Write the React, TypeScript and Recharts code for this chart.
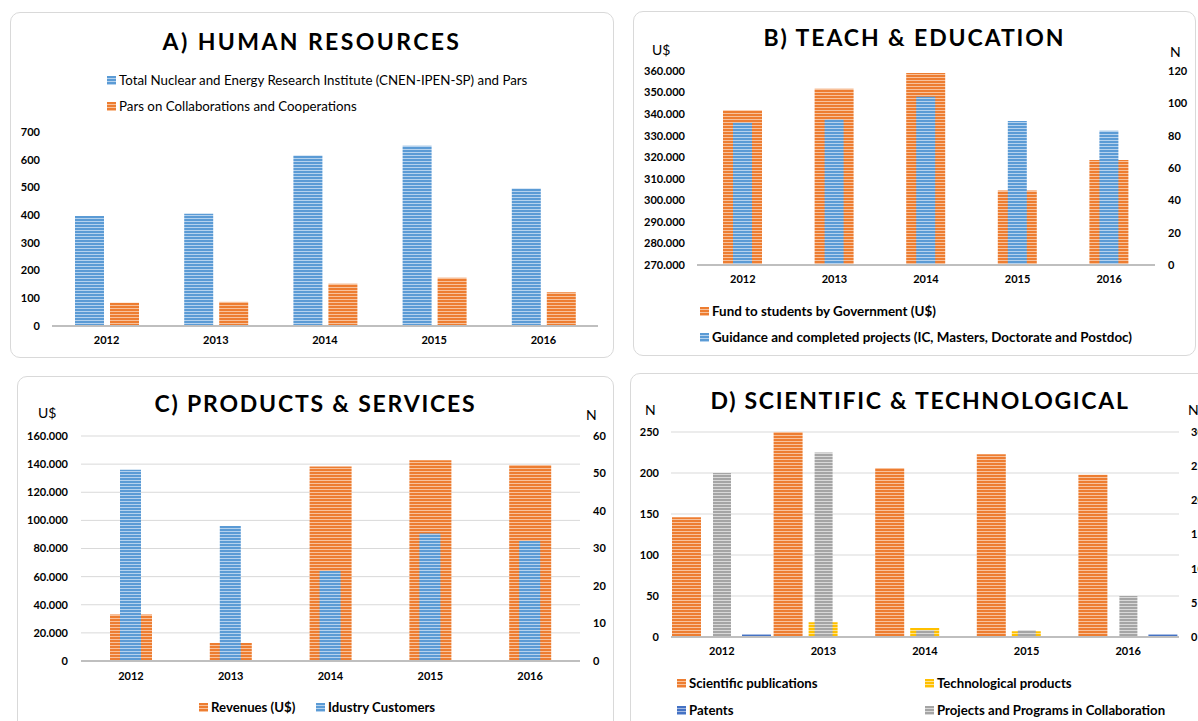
import { Bar, BarChart, CartesianGrid, XAxis, YAxis } from 'recharts';

// ---- data ----
const years = ['2012', '2013', '2014', '2015', '2016'];

const hrTotal = [397, 405, 615, 650, 496];
const hrPars = [84, 87, 152, 174, 122];
const hrTicks = [0, 100, 200, 300, 400, 500, 600, 700];

const eduFund = [341800, 351800, 359100, 304600, 318700];
const eduGuidance = [88, 90, 104, 89, 83];
const eduFundTicks = [270000, 280000, 290000, 300000, 310000, 320000, 330000, 340000, 350000, 360000];
const eduGuidanceTicks = [0, 20, 40, 60, 80, 100, 120];

const prodRevenues = [33000, 12800, 138400, 142700, 139300];
const prodCustomers = [51, 36, 24, 34, 32];
const prodRevenueTicks = [0, 20000, 40000, 60000, 80000, 100000, 120000, 140000, 160000];
const prodCustomerTicks = [0, 10, 20, 30, 40, 50, 60];

const sciPublications = [146, 250, 206, 223, 198];
const sciTechProducts = [0, 18, 11, 7, 0];
const sciPatents = [3, 0, 0, 0, 3];
const sciProjects = [24, 27, 1, 1, 6];
const sciLeftTicks = [0, 50, 100, 150, 200, 250];
const sciRightTicks = [0, 5, 10, 15, 20, 25, 30];

const hrData = years.map((year, i) => ({ year, total: hrTotal[i], pars: hrPars[i] }));
const eduData = years.map((year, i) => ({ year, fund: eduFund[i], guidance: eduGuidance[i] }));
const prodData = years.map((year, i) => ({ year, revenues: prodRevenues[i], customers: prodCustomers[i] }));
const sciData = years.map((year, i) => ({
  year,
  publications: sciPublications[i],
  tech: sciTechProducts[i],
  patents: sciPatents[i],
  projects: sciProjects[i],
}));

const stripes: Record<string, [string, string]> = {
  blue: ['#5b9bd5', '#b5d2ee'],
  orange: ['#ed7d31', '#f8c29c'],
  yellow: ['#ffc000', '#ffe38f'],
  grey: ['#a5a5a5', '#d9d9d9'],
  navy: ['#4472c4', '#a3b8e2'],
};

const dotFormat = (v: number) => String(v).replace(/\B(?=(\d{3})+(?!\d))/g, '.');

const FONT = 'Lato, "Noto Sans", sans-serif';
const tickStyle = { fill: '#000', fontSize: 11, fontWeight: 700, fontFamily: FONT };
const axisLine = { stroke: '#bfbfbf', strokeWidth: 2 };

const Patterns = () => (
  <svg width={0} height={0} style={{ position: 'absolute' }}>
    <defs>
      {Object.entries(stripes).map(([name, [main, light]]) => (
        <pattern key={name} id={`stripe-${name}`} width={4} height={3} patternUnits="userSpaceOnUse">
          <rect width={4} height={3} fill={main} />
          <rect y={2} width={4} height={1} fill={light} />
        </pattern>
      ))}
    </defs>
  </svg>
);

const Card = ({ left, top, width, height }: { left: number; top: number; width: number; height: number }) => (
  <div
    style={{
      position: 'absolute',
      left,
      top,
      width,
      height,
      border: '1px solid #d9d9d9',
      borderRadius: 10,
      boxSizing: 'border-box',
      background: '#fff',
    }}
  />
);

const Title = ({ text, left, width, top, spacing }: { text: string; left: number; width: number; top: number; spacing: number }) => (
  <div
    style={{
      position: 'absolute',
      left,
      width,
      top,
      textAlign: 'center',
      fontFamily: FONT,
      fontWeight: 700,
      fontSize: 23,
      lineHeight: '26px',
      letterSpacing: spacing,
      color: '#000',
      whiteSpace: 'nowrap',
    }}
  >
    {text}
  </div>
);

const Note = ({ text, x, y }: { text: string; x: number; y: number }) => (
  <div
    style={{
      position: 'absolute',
      left: x,
      top: y - 9,
      fontFamily: FONT,
      fontSize: 14,
      lineHeight: '18px',
      color: '#000',
    }}
  >
    {text}
  </div>
);

const LegendItem = ({
  color,
  label,
  x,
  y,
  size,
  bold = true,
}: {
  color: string;
  label: string;
  x: number;
  y: number;
  size: number;
  bold?: boolean;
}) => (
  <div
    style={{
      position: 'absolute',
      left: x,
      top: y - 9,
      height: 18,
      display: 'flex',
      alignItems: 'center',
      fontFamily: FONT,
      fontSize: size,
      fontWeight: bold ? 700 : 400,
      color: '#000',
      whiteSpace: 'nowrap',
    }}
  >
    <svg width={9} height={9} style={{ marginRight: 3 }}>
      <rect width={9} height={9} fill={`url(#stripe-${color})`} />
    </svg>
    {label}
  </div>
);

const Abs = ({ left, top, children }: { left: number; top: number; children: React.ReactNode }) => (
  <div style={{ position: 'absolute', left, top }}>{children}</div>
);

export default function App() {
  return (
    <div
      style={{
        position: 'absolute',
        left: 0,
        top: 0,
        width: 1198,
        height: 721,
        overflow: 'hidden',
        background: '#fff',
      }}
    >
      <Patterns />
      <Card left={10} top={12} width={604} height={346} />
      <Card left={633} top={11} width={563} height={345} />
      <Card left={17} top={376} width={597} height={370} />
      <Card left={630} top={373} width={600} height={370} />

      {/* A) HUMAN RESOURCES */}
      <Title text="A) HUMAN RESOURCES" left={10} width={604} top={28} spacing={2.4} />
      <LegendItem color="blue" label="Total Nuclear and Energy Research Institute (CNEN-IPEN-SP) and Pars" x={107} y={80} size={13.3} bold={false} />
      <LegendItem color="orange" label="Pars on Collaborations and Cooperations" x={107} y={106} size={13.3} bold={false} />
      <Abs left={0} top={0}>
        <BarChart width={620} height={360} data={hrData} margin={{ top: 132, right: 22, bottom: 14, left: 0 }} barGap={6}>
          <XAxis dataKey="year" axisLine={axisLine} tickLine={false} tick={tickStyle} tickMargin={4} height={20} />
          <YAxis width={52} domain={[0, 700]} ticks={hrTicks} interval={0} axisLine={false} tickLine={false} tick={tickStyle} tickMargin={6} />
          <Bar dataKey="total" fill="url(#stripe-blue)" barSize={29} isAnimationActive={false} />
          <Bar dataKey="pars" fill="url(#stripe-orange)" barSize={29} isAnimationActive={false} />
        </BarChart>
      </Abs>

      {/* B) TEACH & EDUCATION */}
      <Title text="B) TEACH & EDUCATION" left={633} width={563} top={24} spacing={1.9} />
      <Note text="U$" x={652} y={50} />
      <Note text="N" x={1170} y={52} />
      <Abs left={630} top={0}>
        <BarChart width={568} height={360} data={eduData} margin={{ top: 71, right: 0, bottom: 75, left: 0 }}>
          <XAxis xAxisId="main" dataKey="year" axisLine={axisLine} tickLine={false} tick={tickStyle} tickMargin={4} height={20} />
          <XAxis xAxisId="over" dataKey="year" hide />
          <YAxis yAxisId="left" width={67} domain={[270000, 360000]} ticks={eduFundTicks} interval={0} tickFormatter={dotFormat} axisLine={false} tickLine={false} tick={tickStyle} tickMargin={6} />
          <YAxis yAxisId="right" orientation="right" width={43} domain={[0, 120]} ticks={eduGuidanceTicks} interval={0} axisLine={false} tickLine={false} tick={{ ...tickStyle, textAnchor: 'start' }} tickMargin={7} />
          <Bar xAxisId="main" yAxisId="left" dataKey="fund" fill="url(#stripe-orange)" barSize={39} isAnimationActive={false} />
          <Bar xAxisId="over" yAxisId="right" dataKey="guidance" fill="url(#stripe-blue)" barSize={19} isAnimationActive={false} />
        </BarChart>
      </Abs>
      <LegendItem color="orange" label="Fund to students by Government (U$)" x={700} y={311} size={13.4} />
      <LegendItem color="blue" label="Guidance and completed projects (IC, Masters, Doctorate and Postdoc)" x={700} y={337} size={13.4} />

      {/* C) PRODUCTS & SERVICES */}
      <Title text="C) PRODUCTS & SERVICES" left={17} width={597} top={390} spacing={1.8} />
      <Note text="U$" x={38} y={413} />
      <Note text="N" x={586} y={415} />
      <Abs left={0} top={370}>
        <BarChart width={620} height={351} data={prodData} margin={{ top: 66, right: 0, bottom: 40, left: 0 }}>
          <CartesianGrid yAxisId="left" xAxisId="main" vertical={false} stroke="#d9d9d9" />
          <XAxis xAxisId="main" dataKey="year" axisLine={axisLine} tickLine={false} tick={tickStyle} tickMargin={5} height={20} />
          <XAxis xAxisId="over" dataKey="year" hide />
          <YAxis yAxisId="left" width={81} domain={[0, 160000]} ticks={prodRevenueTicks} interval={0} tickFormatter={dotFormat} axisLine={false} tickLine={false} tick={tickStyle} tickMargin={7} />
          <YAxis yAxisId="right" orientation="right" width={40} domain={[0, 60]} ticks={prodCustomerTicks} interval={0} axisLine={false} tickLine={false} tick={{ ...tickStyle, textAnchor: 'start' }} tickMargin={7} />
          <Bar xAxisId="main" yAxisId="left" dataKey="revenues" fill="url(#stripe-orange)" barSize={42} isAnimationActive={false} />
          <Bar xAxisId="over" yAxisId="right" dataKey="customers" fill="url(#stripe-blue)" barSize={21} isAnimationActive={false} />
        </BarChart>
      </Abs>
      <LegendItem color="orange" label="Revenues (U$)" x={199} y={707} size={13.2} />
      <LegendItem color="blue" label="Idustry Customers" x={316} y={707} size={13.2} />

      {/* D) SCIENTIFIC & TECHNOLOGICAL */}
      <Title text="D) SCIENTIFIC & TECHNOLOGICAL" left={630} width={580} top={387} spacing={1.7} />
      <Note text="N" x={645} y={410} />
      <Note text="N" x={1188} y={410} />
      <Abs left={628} top={370}>
        <BarChart width={600} height={351} data={sciData} margin={{ top: 62, right: 0, bottom: 64, left: 0 }} barGap={6}>
          <CartesianGrid yAxisId="left" xAxisId="main" vertical={false} stroke="#d9d9d9" />
          <XAxis xAxisId="main" dataKey="year" axisLine={axisLine} tickLine={false} tick={tickStyle} tickMargin={4} height={20} />
          <XAxis xAxisId="over" dataKey="year" hide />
          <YAxis yAxisId="left" width={43} domain={[0, 250]} ticks={sciLeftTicks} interval={0} axisLine={false} tickLine={false} tick={tickStyle} tickMargin={6} />
          <YAxis yAxisId="right" orientation="right" width={49} domain={[0, 30]} ticks={sciRightTicks} interval={0} axisLine={false} tickLine={false} tick={{ ...tickStyle, textAnchor: 'start' }} tickMargin={6} />
          <Bar xAxisId="main" yAxisId="left" dataKey="publications" fill="url(#stripe-orange)" barSize={29} isAnimationActive={false} />
          <Bar xAxisId="main" yAxisId="left" dataKey="tech" fill="url(#stripe-yellow)" barSize={29} isAnimationActive={false} />
          <Bar xAxisId="main" yAxisId="left" dataKey="patents" fill="url(#stripe-navy)" barSize={29} isAnimationActive={false} />
          <Bar xAxisId="over" yAxisId="right" dataKey="projects" fill="url(#stripe-grey)" barSize={18} isAnimationActive={false} />
        </BarChart>
      </Abs>
      <LegendItem color="orange" label="Scientific publications" x={677} y={683} size={13.2} />
      <LegendItem color="yellow" label="Technological products" x={925} y={683} size={13.2} />
      <LegendItem color="navy" label="Patents" x={677} y={710} size={13.2} />
      <LegendItem color="grey" label="Projects and Programs in Collaboration" x={925} y={710} size={13.2} />
    </div>
  );
}
